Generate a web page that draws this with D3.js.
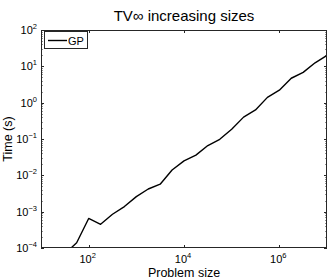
<!DOCTYPE html>
<html><head><meta charset="utf-8">
<script src="https://cdn.jsdelivr.net/npm/d3@7"></script>
<style>body{margin:0;background:#fff}svg{display:block}text{font-family:"Liberation Sans",Arial,sans-serif}</style>
</head><body><svg id="c" width="332" height="280"></svg>
<script>
const problemSizes = [32, 56, 100, 178, 316, 562, 1000, 1778, 3162, 5623, 10000, 17783, 31623, 56234, 100000, 177828, 316228, 562341, 1000000, 1778279, 3162278, 5623413, 10000000];
const gpTimes = [7e-5, 1.4e-4, 6.5e-4, 4.5e-4, 8.5e-4, 1.38e-3, 2.6e-3, 4.2e-3, 5.7e-3, 0.014, 0.025, 0.036, 0.066, 0.098, 0.186, 0.40, 0.63, 1.4, 2.2, 4.7, 6.8, 12.5, 20];
const xTickExps = [2, 4, 6];
const yTickExps = [-4, -3, -2, -1, 0, 1, 2];
const seriesName = "GP";
const titleText = "TV\u221E increasing sizes";
const xLabel = "Problem size";
const yLabel = "Time (s)";

const svg = d3.select("#c");
const L = 41, R = 327, T = 30, B = 248;
const x = d3.scaleLog().domain([10, 1e7]).range([L, R]);
const y = d3.scaleLog().domain([1e-4, 1e2]).range([B, T]);
const axCol = "#262626";

svg.append("clipPath").attr("id", "clip").append("rect").attr("x", L).attr("y", T).attr("width", R - L).attr("height", B - T);

// line
const line = d3.line().x((d, i) => x(problemSizes[i])).y(d => y(d));
svg.append("path").datum(gpTimes).attr("clip-path", "url(#clip)")
  .attr("d", line).attr("fill", "none").attr("stroke", "#000").attr("stroke-width", 1.4).attr("stroke-linejoin", "round");

// box
svg.append("rect").attr("x", L + 0.5).attr("y", T + 0.5).attr("width", R - L - 1).attr("height", B - T - 1)
  .attr("fill", "none").attr("stroke", axCol).attr("stroke-width", 1);

const g = svg.append("g").attr("stroke", axCol).attr("stroke-width", 1);
// x ticks
xTickExps.forEach(e => {
  const px = Math.round(x(Math.pow(10, e))) + 0.5;
  g.append("line").attr("x1", px).attr("x2", px).attr("y1", B).attr("y2", B - 3);
  g.append("line").attr("x1", px).attr("x2", px).attr("y1", T).attr("y2", T + 3);
});
// y ticks major + minor
yTickExps.forEach(e => {
  const py = Math.round(y(Math.pow(10, e))) + 0.5;
  g.append("line").attr("x1", L).attr("x2", L + 3).attr("y1", py).attr("y2", py);
  g.append("line").attr("x1", R).attr("x2", R - 3).attr("y1", py).attr("y2", py);
  if (e < 2) for (let m = 2; m <= 9; m++) {
    const pm = Math.round(y(m * Math.pow(10, e))) + 0.5;
    g.append("line").attr("x1", L).attr("x2", L + 1.5).attr("y1", pm).attr("y2", pm);
    g.append("line").attr("x1", R).attr("x2", R - 1.5).attr("y1", pm).attr("y2", pm);
  }
});

// tick labels
xTickExps.forEach(e => {
  const t = svg.append("text").attr("x", x(Math.pow(10, e)) - 1).attr("y", B + 15)
    .attr("text-anchor", "middle").attr("font-size", 11).attr("fill", "#000");
  t.append("tspan").text("10");
  t.append("tspan").attr("dy", -5).attr("font-size", 7.5).text(String(e));
});
yTickExps.forEach(e => {
  const t = svg.append("text").attr("x", 37).attr("y", y(Math.pow(10, e)) + 4)
    .attr("text-anchor", "end").attr("font-size", 11).attr("fill", "#000");
  t.append("tspan").text("10");
  t.append("tspan").attr("dy", -5).attr("font-size", 7.5).text(String(e).replace("-", "\u2212"));
});

// title & labels
svg.append("text").attr("x", (L + R) / 2).attr("y", 21).attr("text-anchor", "middle").attr("font-size", 15).attr("fill", "#000").text(titleText);
svg.append("text").attr("x", (L + R) / 2).attr("y", 277).attr("text-anchor", "middle").attr("font-size", 12.5).attr("fill", "#000").text(xLabel);
svg.append("text").attr("transform", `translate(12,${(T + B) / 2}) rotate(-90)`).attr("text-anchor", "middle").attr("font-size", 12.5).attr("fill", "#000").text(yLabel);

// legend
svg.append("rect").attr("x", 44.5).attr("y", 31.5).attr("width", 43).attr("height", 17).attr("fill", "#fff").attr("stroke", axCol);
svg.append("line").attr("x1", 48).attr("x2", 67).attr("y1", 40.5).attr("y2", 40.5).attr("stroke", "#000").attr("stroke-width", 1.4);
svg.append("text").attr("x", 68).attr("y", 44.5).attr("font-size", 11).attr("fill", "#000").text(seriesName);
</script></body></html>
